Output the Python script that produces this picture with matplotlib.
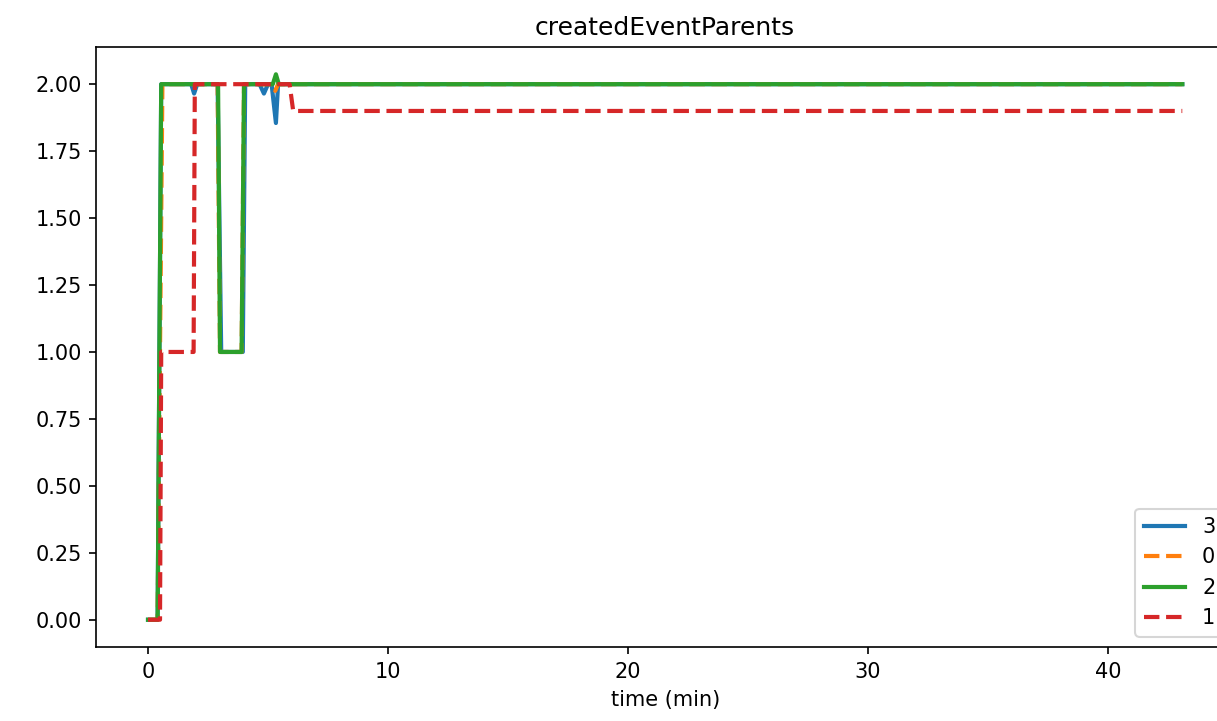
import matplotlib
matplotlib.use("Agg")
import matplotlib.pyplot as plt

# time (min) / createdEventParents per node
labels = ["3", "0", "2", "1"]
styles = ["-", "--", "-", "--"]

t_3 = [0, 0.4, 0.55, 1.8, 1.92, 2.05, 2.9, 3.05, 3.95, 4.05, 4.65, 4.83, 5.0, 5.15, 5.33, 5.42, 43.1]
v_3 = [0, 0, 2, 2, 1.965, 2, 2, 1, 1, 2, 2, 1.965, 2, 2, 1.855, 2, 2]

t_0 = [0, 0.4, 0.6, 2.9, 3.0, 3.9, 4.0, 5.2, 5.3, 5.42, 43.1]
v_0 = [0, 0, 2, 2, 1, 1, 2, 2, 1.975, 2, 2]

t_2 = [0, 0.4, 0.55, 2.92, 3.0, 3.9, 4.0, 5.2, 5.33, 5.45, 43.1]
v_2 = [0, 0, 2, 2, 1, 1, 2, 2, 2.037, 2, 2]

t_1 = [0, 0.5, 0.55, 1.9, 1.95, 5.9, 6.05, 43.1]
v_1 = [0, 0, 1, 1, 2, 2, 1.9, 1.9]

series = [(t_3, v_3), (t_0, v_0), (t_2, v_2), (t_1, v_1)]

fig = plt.figure(figsize=(1217 / 150, 721 / 150), dpi=150)
# axes run past the right edge, as in the (cropped) original
ax = fig.add_axes([96.3 / 1217, 74 / 721, (1234 - 96.3) / 1217, 600 / 721])

for (t, v), lab, ls in zip(series, labels, styles):
    ax.plot(t, v, ls, label=lab, linewidth=2)

ax.set_title("createdEventParents")
ax.set_xlabel("time (min)")
ax.legend(loc="lower right")

fig.savefig("out.png", dpi=150)
